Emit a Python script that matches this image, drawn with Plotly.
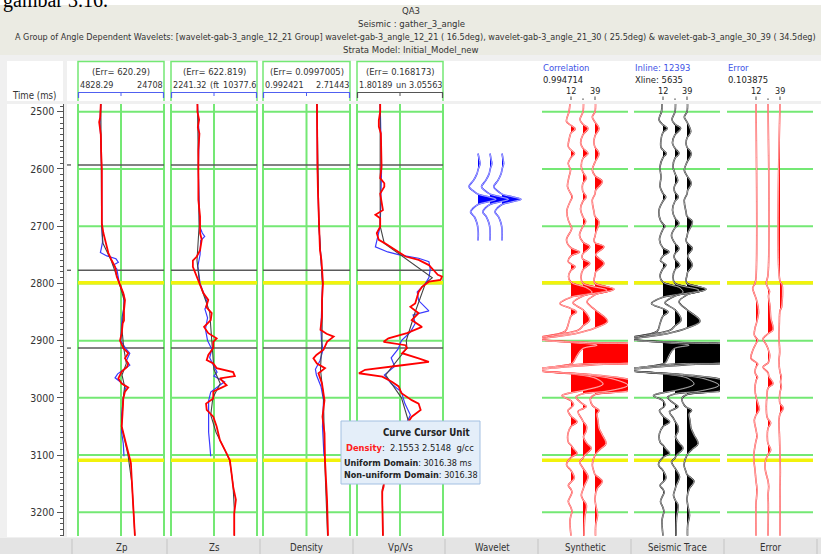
import plotly.graph_objects as go

W, H = 821, 554
FONT = "Liberation Sans Narrow, DejaVu Sans Condensed, Arial Narrow, sans-serif"

# ---------------------------------------------------------------- text data
CAPTION = "gambar 3.16."
TITLE_LINES = [
    "QA3",
    "Seismic : gather_3_angle",
    "A Group of Angle Dependent Wavelets: [wavelet-gab-3_angle_12_21 Group] wavelet-gab-3_angle_12_21 ( 16.5deg), "
    "wavelet-gab-3_angle_21_30 ( 25.5deg) & wavelet-gab-3_angle_30_39 ( 34.5deg)",
    "Strata Model: Initial_Model_new",
]
TRACK_LABELS = ["Zp", "Zs", "Density", "Vp/Vs", "Wavelet", "Synthetic", "Seismic Trace", "Error"]

LOG_MIN = [4828.29, 2241.32, 0.992421, 1.80189]
LOG_MAX = [24708.0, 10377.6, 2.71443, 3.05563]
LOG_MIN_TEXT = ["4828.29", "2241.32", "0.992421", "1.80189"]
LOG_MAX_TEXT = ["24708", "10377.6", "2.71443", "3.05563"]
LOG_UNIT_TEXT = ["", "(ft", "", "un"]
LOG_ERR_TEXT = ["620.29", "622.819", "0.0997005", "0.168173"]

PANEL_TITLES = ["Correlation", "Inline: 12393", "Error"]
PANEL_VALUES = ["0.994714", "Xline: 5635", "0.103875"]
ANGLE_LABELS = ["12", "", "39"]

HORIZON_TIMES = [2593, 2777, 2913]
MARKER_TIMES = [2799, 3109]
GRID_TIMES = [2500, 2600, 2700, 2800, 2900, 3000, 3100, 3200]

CURSOR_TIME = "3016.38"
CURSOR_DENSITY = ("2.1553", "2.5148")

# ---------------------------------------------------------------- well logs (time ms, value)
ZP_INV = [(2486, 10100), (2500, 10100), (2510, 9950), (2518, 9720), (2526, 9800), (2540, 10100), (2570, 10180),
          (2600, 10340), (2650, 10340), (2695, 10340), (2712, 10700), (2730, 11330), (2747, 11850), (2760, 12630),
          (2771, 13390), (2788, 13780), (2800, 14380), (2817, 15300), (2829, 15690), (2847, 15460), (2865, 15460),
          (2870, 15160), (2887, 14930), (2900, 14540), (2913, 15300), (2922, 16440), (2931, 15690), (2940, 16440),
          (2946, 16150), (2954, 14930), (2966, 14150), (2975, 14930), (2982, 16440), (2989, 15690), (3001, 15300),
          (3015, 15250), (3030, 15100), (3050, 14930), (3074, 15690), (3097, 16440), (3114, 17060), (3138, 17220),
          (3167, 17450), (3202, 17750), (3241, 17980)]
ZP_LOG = [(2486, 10100), (2520, 9900), (2540, 10050), (2600, 10300), (2700, 10340), (2728, 10500), (2740, 10180),
          (2746, 10000), (2752, 11500), (2757, 13600), (2763, 14150), (2768, 13000), (2775, 13800), (2790, 14200),
          (2800, 14380), (2820, 15400), (2840, 15500), (2860, 15000), (2880, 14900), (2900, 14700), (2913, 15800),
          (2922, 16800), (2935, 16000), (2943, 16800), (2950, 15500), (2958, 14000), (2965, 13390), (2972, 14500),
          (2980, 16000), (2988, 15600), (3000, 15300), (3030, 14900), (3060, 14900), (3080, 15300), (3102, 15460)]
ZP_MODEL = [(2486, 10100), (2700, 10300), (2730, 10600), (2760, 12500), (2800, 14380), (2830, 15500), (2880, 15000),
            (2913, 15400), (2940, 16000), (2960, 15000), (2980, 15600), (3000, 15300), (3050, 14900), (3100, 16400),
            (3150, 17300), (3200, 17750), (3241, 17980)]

ZS_INV = [(2486, 4740), (2500, 4740), (2514, 4900), (2527, 4780), (2538, 4930), (2567, 4830), (2600, 4830),
          (2654, 4830), (2683, 4990), (2712, 4990), (2724, 5150), (2742, 4990), (2753, 4680), (2760, 4310),
          (2771, 4310), (2777, 4430), (2788, 4680), (2800, 4930), (2817, 5300), (2829, 5770), (2841, 5560),
          (2852, 6090), (2864, 6000), (2870, 5700), (2876, 5370), (2887, 5770), (2896, 6560), (2902, 6240),
          (2913, 6240), (2925, 5770), (2934, 5620), (2940, 6240), (2948, 6560), (2955, 8120), (2962, 8280),
          (2966, 6870), (2978, 7500), (2982, 7030), (2989, 6240), (3001, 6240), (3010, 5560), (3021, 5620),
          (3033, 6240), (3050, 6560), (3074, 6870), (3097, 7500), (3109, 7810), (3132, 7970), (3155, 8120),
          (3178, 8380), (3202, 8220), (3241, 8220)]
ZS_LOG = [(2486, 4740), (2540, 4900), (2600, 4830), (2700, 4950), (2712, 5200), (2718, 5430), (2725, 5050),
          (2750, 4990), (2770, 4780), (2790, 4930), (2800, 4990), (2820, 5400), (2835, 5700), (2845, 5450),
          (2860, 5700), (2880, 5500), (2900, 5700), (2915, 6100), (2930, 5900), (2945, 6300), (2955, 6600),
          (2962, 6300), (2972, 7300), (2980, 6700), (2990, 6000), (3005, 5800), (3030, 5770), (3060, 5800),
          (3080, 5900), (3102, 6000)]
ZS_MODEL = [(2486, 4750), (2700, 4900), (2760, 4700), (2800, 4950), (2850, 5900), (2900, 6100), (2950, 6300),
            (2975, 6900), (3000, 6200), (3030, 6000), (3060, 6500), (3090, 7300), (3110, 7800), (3150, 8100),
            (3200, 8250), (3241, 8250)]

DEN_INV = [(2486, 2.06), (2500, 2.06), (2540, 2.07), (2596, 2.07), (2640, 2.08), (2683, 2.10), (2700, 2.11),
           (2742, 2.12), (2760, 2.15), (2771, 2.16), (2790, 2.17), (2800, 2.18), (2830, 2.16), (2858, 2.16),
           (2881, 2.13), (2888, 2.25), (2893, 2.39), (2902, 2.26), (2916, 2.19), (2925, 2.05), (2931, 1.99),
           (2940, 2.06), (2948, 2.22), (2957, 2.09), (2975, 2.16), (3004, 2.21), (3033, 2.17), (3062, 2.21),
           (3109, 2.22), (3178, 2.26), (3241, 2.28)]
DEN_LOG = [(2486, 2.06), (2600, 2.07), (2700, 2.10), (2800, 2.17), (2880, 2.14), (2900, 2.15), (2916, 2.18),
           (2935, 2.12), (2950, 2.03), (2960, 2.05), (2980, 2.14), (3004, 2.19), (3050, 2.17), (3102, 2.20)]
DEN_MODEL = [(2486, 2.06), (2700, 2.10), (2800, 2.17), (2900, 2.16), (2950, 2.13), (3000, 2.19), (3100, 2.21),
             (3241, 2.27)]

VPVS_INV = [(2486, 2.14), (2500, 2.14), (2515, 2.12), (2526, 2.12), (2538, 2.15), (2596, 2.16), (2616, 2.14),
            (2625, 2.20), (2631, 2.20), (2643, 2.14), (2672, 2.18), (2680, 2.07), (2686, 2.14), (2701, 2.14),
            (2712, 2.09), (2724, 2.12), (2730, 2.21), (2742, 2.36), (2753, 2.51), (2759, 2.70), (2768, 2.85),
            (2777, 2.92), (2785, 2.98), (2788, 3.04), (2794, 3.02), (2797, 2.85), (2806, 2.75), (2815, 2.70),
            (2823, 2.68), (2835, 2.65), (2841, 2.58), (2852, 2.70), (2864, 2.60), (2876, 2.75), (2887, 2.53),
            (2896, 2.26), (2902, 2.19), (2908, 2.51), (2913, 2.53), (2922, 2.46), (2931, 2.70), (2937, 2.85),
            (2943, 2.46), (2951, 1.92), (2957, 1.83), (2963, 2.17), (2972, 2.31), (2980, 2.41), (2992, 2.45),
            (3004, 2.60), (3010, 2.70), (3021, 2.73), (3033, 2.60), (3060, 2.45), (3090, 2.30), (3120, 2.22),
            (3155, 2.19), (3164, 2.17), (3178, 2.17), (3241, 2.18)]
VPVS_LOG = [(2486, 2.14), (2600, 2.16), (2700, 2.14), (2724, 2.10), (2736, 2.07), (2745, 2.25), (2750, 2.42),
            (2756, 2.70), (2762, 2.85), (2775, 2.87), (2790, 2.85), (2800, 2.80), (2815, 2.68), (2830, 2.70),
            (2848, 2.85), (2855, 2.62), (2870, 2.65), (2885, 2.58), (2900, 2.45), (2915, 2.40), (2930, 2.30),
            (2945, 2.35), (2960, 2.20), (2975, 2.30), (2990, 2.45), (3010, 2.50), (3030, 2.58), (3050, 2.50),
            (3100, 2.30)]
VPVS_MODEL = [(2486, 2.14), (2700, 2.14), (2730, 2.20), (2790, 2.90), (2800, 2.80), (2850, 2.65), (2900, 2.52),
              (2913, 2.53), (2960, 2.22), (3000, 2.45), (3040, 2.55), (3100, 2.30), (3160, 2.17), (3241, 2.18)]

# ---------------------------------------------------------------- wavelets (ms relative to centre, amplitude)
WAVELET_CENTER_MS = 2653
WAVELET_T = [-80, -70, -62, -54, -44, -33, -22, -15, -9, -4, 0, 4, 9, 15, 22, 31, 42, 52, 62, 72]
WAV_12 = [0, 0.12, 0.20, 0.05, -0.12, -0.45, -0.90, -0.50, 0, 1.1, 1.80, 1.1, 0, -0.45, -0.75, -0.35, -0.10, 0, 0.03, 0]
WAV_25 = [0, 0.10, 0.18, 0.04, -0.10, -0.42, -0.85, -0.50, 0, 1.1, 1.85, 1.1, 0, -0.45, -0.72, -0.35, -0.10, 0, 0.02, 0]
WAV_39 = [0, 0.10, 0.16, 0.03, -0.10, -0.40, -0.82, -0.48, 0, 1.1, 1.90, 1.1, 0, -0.45, -0.70, -0.33, -0.10, 0, 0.02, 0]

# ---------------------------------------------------------------- synthetic gathers (time ms, amplitude)
SYN_12 = [(2486, -0.1), (2500, -0.2), (2517, -0.45), (2524, 0), (2530, 0.42), (2537, 0), (2549, -0.2), (2561, -0.27),
          (2567, 0), (2573, 0.35), (2580, 0), (2590, -0.28), (2602, -0.05), (2614, -0.2), (2631, -0.35), (2644, 0),
          (2649, 0.13), (2654, 0), (2672, -0.4), (2689, -0.28), (2700, 0), (2704, 0.07), (2708, 0), (2724, -0.45),
          (2738, 0), (2745, 0.85), (2752, 0), (2762, -0.28), (2766, 0), (2771, 0.42), (2777, 0), (2788, -0.25),
          (2798, 0), (2808, 1.6), (2816, 2.1), (2824, 0), (2835, -1.1), (2844, 0), (2850, 0.55), (2857, 0),
          (2870, -0.25), (2884, -0.6), (2896, -3.4), (2903, 0), (2908, 2.6), (2914, 1.15), (2926, 0.6), (2937, 0.25),
          (2941, 0), (2951, -3.6), (2958, 0), (2966, 2.5), (2976, 3.2), (2986, 1.5), (2991, 0), (2996, -0.9),
          (3005, 0), (3012, 0.25), (3017, 0), (3022, -0.3), (3032, 0), (3042, 0.6), (3050, 0), (3062, -0.3),
          (3077, -0.27), (3083, 0), (3090, 0.3), (3097, 0.6), (3104, 0), (3117, -0.45), (3127, 0), (3140, 0.33),
          (3147, 0), (3153, -0.27), (3160, 0), (3165, 0.1), (3170, 0), (3181, -0.27), (3192, 0), (3199, 0.1),
          (3205, 0), (3215, -0.1), (3241, 0.0)]
SYN_25 = [(2486, 0.05), (2500, 0), (2514, -0.3), (2522, 0), (2529, 0.5), (2540, 0), (2555, -0.23), (2564, 0),
          (2573, 0.5), (2581, 0), (2596, -0.17), (2606, 0), (2616, 0.33), (2625, 0), (2631, -0.07), (2640, 0),
          (2649, 0.33), (2656, 0), (2670, -0.25), (2684, 0), (2692, 0.27), (2700, 0), (2716, -0.35), (2728, 0),
          (2736, 0.67), (2748, 0), (2753, -0.1), (2758, 0), (2765, 0.67), (2776, 0), (2790, -0.2), (2800, 0),
          (2812, 2.4), (2822, 0), (2834, -1.0), (2846, 0), (2864, 0.65), (2874, 0), (2882, -0.5), (2897, -4.6),
          (2903, 0), (2908, 5.5), (2922, 6.5), (2936, 5.5), (2941, 0), (2951, -4.8), (2959, 0), (2967, 3.0),
          (2978, 4.5), (2988, 2.5), (2993, 0), (2999, -0.7), (3007, -0.3), (3011, 0), (3015, 0.33), (3019, 0),
          (3024, -0.5), (3036, -0.15), (3041, 0), (3050, 0.35), (3059, 0.3), (3068, 0.05), (3080, 0.4), (3088, 0.83),
          (3100, 0.17), (3105, 0), (3112, -0.33), (3123, 0), (3138, 0.5), (3152, 0.17), (3160, 0), (3170, -0.17),
          (3178, 0), (3187, 0.33), (3210, 0.17), (3241, 0.1)]
SYN_39 = [(2486, 0.05), (2500, 0), (2509, -0.27), (2518, 0), (2529, 0.4), (2542, 0), (2555, -0.1), (2562, 0),
          (2573, 0.4), (2588, 0), (2602, -0.27), (2612, 0), (2622, 0.73), (2637, 0.07), (2644, 0), (2654, -0.27),
          (2675, -0.1), (2683, 0), (2692, 0.4), (2712, 0.07), (2718, 0), (2724, -0.1), (2729, 0), (2736, 0.9),
          (2750, 0.07), (2765, 0.9), (2780, 0.07), (2786, 0), (2794, -0.1), (2800, 0), (2810, 1.9), (2820, 0),
          (2832, -0.8), (2846, 0), (2866, 1.25), (2878, 0), (2888, -2.0), (2898, -5.6), (2904, 0), (2909, 5.5),
          (2922, 6.5), (2936, 5.5), (2942, 0), (2952, -5.8), (2960, 0), (2968, 3.5), (2979, 5.5), (2989, 3.0),
          (2994, 0), (3001, -0.45), (3013, -0.27), (3017, 0), (3022, 0.4), (3028, 0.2), (3040, 0.3), (3053, 0.4),
          (3065, 0.73), (3080, 1.1), (3090, 0.5), (3100, 0), (3117, -0.27), (3129, -0.1), (3134, 0), (3146, 0.73),
          (3158, 0.23), (3175, 0), (3187, 0.07), (3205, 0.25), (3222, 0.07), (3241, 0.05)]

# ---------------------------------------------------------------- recorded seismic gather
SEIS_12 = [(2486, -0.1), (2500, -0.15), (2514, -0.4), (2523, 0), (2529, 0.43), (2536, 0), (2549, -0.2), (2562, -0.2),
           (2567, 0), (2573, 0.33), (2580, 0), (2596, -0.3), (2614, -0.2), (2631, -0.3), (2643, 0), (2649, 0.27),
           (2656, 0), (2672, -0.4), (2690, -0.25), (2696, 0), (2700, 0.2), (2705, 0), (2724, -0.35), (2738, 0),
           (2745, 0.6), (2752, 0), (2760, -0.25), (2764, 0), (2768, 0.3), (2774, 0), (2788, -0.3), (2798, 0),
           (2808, 1.7), (2816, 2.0), (2824, 0), (2835, -1.15), (2844, 0), (2850, 0.5), (2857, 0), (2870, -0.3),
           (2884, -0.6), (2896, -3.4), (2903, 0), (2908, 2.6), (2914, 1.1), (2926, 0.6), (2937, 0.3), (2941, 0),
           (2951, -3.6), (2958, 0), (2966, 2.5), (2976, 3.1), (2986, 1.5), (2991, 0), (2996, -0.95), (3005, 0),
           (3012, 0.2), (3017, 0), (3022, -0.35), (3032, 0), (3042, 0.65), (3050, 0), (3062, -0.35), (3077, -0.3),
           (3083, 0), (3090, 0.3), (3097, 0.65), (3104, 0), (3117, -0.45), (3127, 0), (3140, 0.3), (3147, 0),
           (3153, -0.3), (3160, 0), (3165, 0.12), (3170, 0), (3181, -0.25), (3192, 0), (3199, 0.1), (3205, 0),
           (3215, -0.1), (3241, 0.0)]
SEIS_25 = [(2486, 0.05), (2500, 0), (2514, -0.3), (2522, 0), (2529, 0.57), (2540, 0), (2555, -0.25), (2564, 0),
           (2573, 0.4), (2581, 0), (2596, -0.2), (2608, 0), (2620, 0.27), (2628, 0), (2634, -0.1), (2641, 0),
           (2649, 0.33), (2656, 0), (2672, -0.25), (2686, 0), (2695, 0.4), (2703, 0), (2716, -0.35), (2730, 0),
           (2739, 0.4), (2748, 0), (2753, -0.1), (2758, 0), (2768, 0.47), (2776, 0), (2790, -0.2), (2800, 0),
           (2812, 2.4), (2822, 0), (2834, -1.0), (2846, 0), (2864, 0.6), (2874, 0), (2882, -0.5), (2897, -4.6),
           (2903, 0), (2908, 5.5), (2922, 6.5), (2936, 5.5), (2941, 0), (2951, -4.8), (2959, 0), (2967, 3.0),
           (2978, 4.4), (2988, 2.5), (2993, 0), (2999, -0.75), (3007, -0.3), (3011, 0), (3015, 0.3), (3019, 0),
           (3024, -0.55), (3036, -0.15), (3041, 0), (3050, 0.3), (3059, 0.3), (3068, 0.05), (3080, 0.45),
           (3088, 0.8), (3100, 0.15), (3105, 0), (3112, -0.35), (3123, 0), (3138, 0.45), (3152, 0.15), (3160, 0),
           (3170, -0.15), (3178, 0), (3187, 0.3), (3210, 0.15), (3241, 0.1)]
SEIS_39 = [(2486, 0.05), (2500, 0), (2509, -0.27), (2518, 0), (2535, 0.37), (2546, 0), (2555, -0.1), (2562, 0),
           (2573, 0.43), (2588, 0), (2602, -0.27), (2612, 0), (2625, 0.43), (2637, 0.07), (2644, 0), (2654, -0.27),
           (2675, -0.1), (2683, 0), (2692, 0.53), (2712, 0.07), (2718, 0), (2724, -0.1), (2729, 0), (2739, 0.53),
           (2752, 0.07), (2768, 0.53), (2780, 0.07), (2786, 0), (2794, -0.1), (2800, 0), (2810, 1.9), (2820, 0),
           (2832, -0.8), (2846, 0), (2866, 1.3), (2878, 0), (2888, -2.0), (2898, -5.6), (2904, 0), (2909, 5.5),
           (2922, 6.5), (2936, 5.5), (2942, 0), (2952, -5.8), (2960, 0), (2968, 3.5), (2979, 5.4), (2989, 3.0),
           (2994, 0), (3001, -0.5), (3013, -0.27), (3017, 0), (3022, 0.45), (3028, 0.2), (3040, 0.3), (3053, 0.4),
           (3065, 0.7), (3080, 1.1), (3090, 0.5), (3100, 0), (3117, -0.3), (3129, -0.1), (3134, 0), (3146, 0.7),
           (3158, 0.25), (3175, 0), (3187, 0.07), (3205, 0.25), (3222, 0.07), (3241, 0.05)]

# ---------------------------------------------------------------- residual (seismic - synthetic)
ERR_12 = [(2486, 0), (2790, 0), (2800, -0.1), (2808, -0.33), (2818, -0.17), (2826, 0), (2840, 0.2), (2852, 0.25),
          (2866, 0.1), (2872, 0), (2878, -0.1), (2890, -0.17), (2895, 0), (2899, 0.17), (2905, 0), (2916, -0.3),
          (2931, -0.5), (2938, 0), (2941, 0.17), (2946, 0), (2955, -0.1), (2960, 0), (2964, 0.15), (2970, 0),
          (2986, -0.1), (2998, 0), (3010, 0.2), (3020, 0.33), (3030, 0), (3039, -0.17), (3056, 0), (3068, 0.1),
          (3075, 0), (3103, -0.23), (3126, -0.1), (3145, 0), (3160, 0.1), (3175, 0.05), (3184, 0), (3241, 0)]
ERR_25 = [(2486, 0), (2785, 0), (2800, -0.17), (2808, 0), (2814, 0.15), (2822, 0.05), (2840, 0.2), (2860, 0.27),
          (2881, 0.5), (2888, 0), (2897, -0.5), (2906, -0.2), (2914, 0), (2925, 0.17), (2935, 0.1), (2939, 0),
          (2946, -0.5), (2956, 0), (2963, 0.1), (2975, 0.5), (2983, 0), (2995, -0.1), (3015, -0.17), (3033, -0.1),
          (3037, 0), (3044, 0.27), (3053, 0), (3068, -0.07), (3080, 0), (3091, 0.27), (3099, 0), (3110, -0.25),
          (3126, -0.27), (3145, 0), (3155, 0.07), (3170, 0), (3184, 0.03), (3241, 0)]
ERR_39 = [(2486, 0), (2796, 0), (2802, 0.2), (2815, 0.25), (2830, 0.22), (2842, 0.15), (2848, 0), (2870, -0.07),
          (2895, -0.1), (2920, -0.03), (2935, -0.1), (2955, 0), (2963, 0.13), (2972, 0.05), (2981, 0.13), (2990, 0),
          (3003, -0.05), (3010, 0), (3018, 0.33), (3028, 0), (3039, -0.1), (3068, -0.05), (3100, 0), (3130, 0.03),
          (3160, 0), (3241, 0)]

# ---------------------------------------------------------------- page geometry (pixels)
PLOT_TOP, PLOT_BOTTOM = 104, 536
T_TOP, T_BOTTOM = 2486.5, 3241.4
TRACK_PX = [(78, 164), (171, 257), (263, 350), (357, 443), (448, 536), (542, 628), (634, 720), (727, 813)]
EDGE_PAD = 1.5            # keeps the border grid lines of a log track fully visible
TRACE_OFFSETS = [29, 41, 53]
WAVELET_OFFSETS = [30, 42, 54]
AMP_GAIN = 10.0           # pixels per amplitude unit

GREEN = "#74e874"
YELLOW = "#f2f20c"
HORIZON = "#5a5a5a"
AXIS_GREY = "#555555"
HEAD_SIZE = 9.4


def xp(p):
    return p / W


def yp(p):
    return 1 - p / H


fig = go.Figure()
shapes, annotations = [], []
axis_names = ["x"] + [f"x{i}" for i in range(2, 9)]
layout_axes = {}

for i, (l, r) in enumerate(TRACK_PX):
    key = "xaxis" if i == 0 else f"xaxis{i + 1}"
    if i < 4:
        k = (LOG_MAX[i] - LOG_MIN[i]) / (r - l)
        rng = [LOG_MIN[i] - EDGE_PAD * k, LOG_MAX[i] + EDGE_PAD * k]
        dom = [xp(l - EDGE_PAD), xp(r + EDGE_PAD)]
    else:
        rng = [0, r - l]
        dom = [xp(l), xp(r)]
    layout_axes[key] = dict(domain=dom, range=rng, anchor="y2" if i == 4 else "y", visible=False,
                            fixedrange=True, showgrid=False, zeroline=False)

layout_axes["yaxis"] = dict(
    domain=[yp(PLOT_BOTTOM), yp(PLOT_TOP)], range=[T_BOTTOM, T_TOP], anchor="free", position=xp(62.5),
    showline=True, linecolor=AXIS_GREY, linewidth=1, ticks="outside", ticklen=6, tickwidth=1,
    tickcolor=AXIS_GREY, tickmode="linear", tick0=2500, dtick=100,
    tickfont=dict(family=FONT, size=10.5, color="#333333"), showgrid=False, zeroline=False, fixedrange=True,
    minor=dict(ticks="outside", ticklen=3, tickcolor=AXIS_GREY, tick0=2500, dtick=10, showgrid=False))
layout_axes["yaxis2"] = dict(domain=[yp(PLOT_BOTTOM), yp(PLOT_TOP)], range=[T_BOTTOM, T_TOP], anchor="x5",
                             visible=False, fixedrange=True)


def paper_rect(x0, y0, x1, y1, fill, line=None, layer="below", width=1):
    shapes.append(dict(type="rect", xref="paper", yref="paper", x0=xp(x0), x1=xp(x1), y0=yp(y0), y1=yp(y1),
                       fillcolor=fill, line=dict(color=line or fill, width=width if line else 0), layer=layer))


def paper_line(x0, y0, x1, y1, color, width=1, layer="above"):
    shapes.append(dict(type="line", xref="paper", yref="paper", x0=xp(x0), x1=xp(x1), y0=yp(y0), y1=yp(y1),
                       line=dict(color=color, width=width), layer=layer))


def label(x, y, s, size=HEAD_SIZE, color="#333333", xanchor="center", family=FONT):
    annotations.append(dict(x=xp(x), y=yp(y), xref="paper", yref="paper", text=s, showarrow=False,
                            xanchor=xanchor, yanchor="middle", borderpad=0,
                            font=dict(family=family, size=size, color=color)))


# ---------------------------------------------------------------- page panels
paper_rect(0, 0, W, 5, "#ffffff")
paper_rect(0, 5, W, 55, "#ebebe3")
paper_rect(7, 61, 63, 101, "#ffffff")
paper_rect(67, 61, W, 101, "#ffffff")
paper_rect(7, PLOT_TOP, 63, 537, "#ffffff")
paper_rect(67, PLOT_TOP, W, 537, "#ffffff")
paper_rect(0, 538, W, H, "#e4e4e4")
for sx in [72, 167, 260, 353, 445, 538, 631, 724, 817]:
    paper_line(sx, 539, sx, H, "#c4c4c4", 1, layer="below")

# ---------------------------------------------------------------- grid, horizons and picks
for i, (l, r) in enumerate(TRACK_PX):
    if i == 4:
        continue
    xa = axis_names[i]
    if i < 4:
        x_lo, x_hi = LOG_MIN[i], LOG_MAX[i]
        for xv in (x_lo, (x_lo + x_hi) / 2, x_hi):
            shapes.append(dict(type="line", xref=xa, yref="y", x0=xv, x1=xv, y0=T_TOP, y1=T_BOTTOM,
                               line=dict(color=GREEN, width=2), layer="below"))
    else:
        x_lo, x_hi = 0, r - l
    for t in GRID_TIMES:
        shapes.append(dict(type="line", xref=xa, yref="y", x0=x_lo, x1=x_hi, y0=t, y1=t,
                           line=dict(color=GREEN, width=2), layer="below"))
    if i < 4:
        for t in HORIZON_TIMES:
            shapes.append(dict(type="line", xref=xa, yref="y", x0=x_lo, x1=x_hi, y0=t, y1=t,
                               line=dict(color=HORIZON, width=1.5), layer="below"))
    for t in MARKER_TIMES:
        shapes.append(dict(type="line", xref=xa, yref="y", x0=x_lo, x1=x_hi, y0=t, y1=t,
                           line=dict(color=YELLOW, width=3.5), layer="below"))

for t in HORIZON_TIMES:
    shapes.append(dict(type="line", xref="paper", yref="y", x0=xp(67), x1=xp(71), y0=t, y1=t,
                       line=dict(color="#444444", width=1.2), layer="above"))

# ---------------------------------------------------------------- well-log curves
LOG_SETS = [(ZP_LOG, ZP_MODEL, ZP_INV), (ZS_LOG, ZS_MODEL, ZS_INV),
            (DEN_LOG, DEN_MODEL, DEN_INV), (VPVS_LOG, VPVS_MODEL, VPVS_INV)]
for i, (measured, model, inverted) in enumerate(LOG_SETS):
    for pairs, color, width in ((measured, "#3a3aff", 1.2), (model, "#444444", 1.1), (inverted, "#ff0000", 1.8)):
        fig.add_trace(go.Scatter(x=[v for _, v in pairs], y=[t for t, _ in pairs], xaxis=axis_names[i], yaxis="y",
                                 mode="lines", line=dict(color=color, width=width), hoverinfo="skip"))


# ---------------------------------------------------------------- variable-area wiggles
def wiggle_paths(samples, base, gain):
    pts = []
    for j, (t, a) in enumerate(samples):
        if j:
            t0, a0 = samples[j - 1]
            if a0 * a < 0:
                pts.append((t0 + (t - t0) * a0 / (a0 - a), 0.0))
        pts.append((t, a))
    fill_x, fill_y, run = [], [], []

    def flush(seg):
        if len(seg) < 2 or max(a for _, a in seg) <= 0:
            return
        seg = list(seg)
        if seg[0][1] > 0:
            seg.insert(0, (seg[0][0], 0.0))
        if seg[-1][1] > 0:
            seg.append((seg[-1][0], 0.0))
        fill_x.extend([base + gain * a for _, a in seg] + [None])
        fill_y.extend([t for t, _ in seg] + [None])

    for t, a in pts:
        if a >= 0:
            run.append((t, a))
        else:
            flush(run)
            run = []
    flush(run)
    line_x = [base + gain * a for _, a in pts]
    line_y = [t for t, _ in pts]
    return (fill_x, fill_y), (line_x, line_y)


def add_gather(traces, axis, yaxis, offsets, fill_color, line_color):
    paths = [wiggle_paths(s, off, AMP_GAIN) for s, off in zip(traces, offsets)]
    for (fx_, fy_), _ in paths:
        fig.add_trace(go.Scatter(x=fx_, y=fy_, xaxis=axis, yaxis=yaxis, mode="lines", fill="toself",
                                 fillcolor=fill_color, line=dict(width=0, shape="spline"), hoverinfo="skip"))
    for _, (lx, ly) in paths:
        fig.add_trace(go.Scatter(x=lx, y=ly, xaxis=axis, yaxis=yaxis, mode="lines",
                                 line=dict(color=line_color, width=1.6, shape="spline"), hoverinfo="skip"))
        fig.add_trace(go.Scatter(x=lx, y=ly, xaxis=axis, yaxis=yaxis, mode="lines",
                                 line=dict(color="#ffffff", width=0.6, shape="spline"), hoverinfo="skip"))


wavelets = [[(WAVELET_CENTER_MS + t, a) for t, a in zip(WAVELET_T, w)] for w in (WAV_12, WAV_25, WAV_39)]
add_gather(wavelets, "x5", "y2", WAVELET_OFFSETS, "#0000ff", "#2a2aff")
add_gather([SYN_12, SYN_25, SYN_39], "x6", "y", TRACE_OFFSETS, "#ff0000", "#ff3a3a")
add_gather([SEIS_12, SEIS_25, SEIS_39], "x7", "y", TRACE_OFFSETS, "#000000", "#222222")
add_gather([ERR_12, ERR_25, ERR_39], "x8", "y", TRACE_OFFSETS, "#ff0000", "#ff3a3a")

# ---------------------------------------------------------------- title block
label(2, 0.5, CAPTION, size=20, color="#000000", xanchor="left", family="Liberation Serif, Times New Roman, serif")
label(411, 11, TITLE_LINES[0], size=9.5)
label(411, 24, TITLE_LINES[1], size=9.5)
label(416, 37, TITLE_LINES[2], size=9.0)
label(411, 49, TITLE_LINES[3], size=9.5)

# ---------------------------------------------------------------- log-track headers
label(33.5, 95, "Time (ms)", size=9.6)
for i in range(4):
    l, r = TRACK_PX[i]
    c = (l + r) / 2
    shapes.append(dict(type="path", xref="paper", yref="paper",
                       path=f"M {xp(l)},{yp(101)} L {xp(l)},{yp(61.5)} L {xp(r)},{yp(61.5)} L {xp(r)},{yp(101)}",
                       line=dict(color=GREEN, width=1.5), layer="above"))
    label(c, 72, f"(Err= {LOG_ERR_TEXT[i]})")
    label(l + 1, 85.5, LOG_MIN_TEXT[i], xanchor="left", size=9)
    label(r - 0.5, 85.5, LOG_MAX_TEXT[i], xanchor="right", size=9)
    if LOG_UNIT_TEXT[i]:
        label(c + 0.5, 85.5, LOG_UNIT_TEXT[i], size=9)
    bar = "#5060f0" if i < 3 else "#555555"
    paper_line(l, 92.5, r, 92.5, bar, 1.2)
    paper_line(l + 0.5, 92.5, l + 0.5, 98, bar, 1.2)
    paper_line(r - 0.5, 92.5, r - 0.5, 98, bar, 1.2)
    paper_line(c, 92.5, c, 96, bar, 1)

# ---------------------------------------------------------------- gather headers
for j, i in enumerate([5, 6, 7]):
    l, r = TRACK_PX[i]
    label(l, 67.5, PANEL_TITLES[j], color="#3d52e6", xanchor="left")
    label(l, 79, PANEL_VALUES[j], color="#222222", xanchor="left")
    for off, ang in zip(TRACE_OFFSETS, ANGLE_LABELS):
        if ang:
            label(l + off, 90.5, ang, size=9, color="#222222")
            paper_line(l + off, 96.5, l + off, 100, "#444444", 1)
        else:
            paper_line(l + off, 98.4, l + off, 100, "#444444", 1)

# ---------------------------------------------------------------- track captions
for name, (l, r) in zip(TRACK_LABELS, TRACK_PX):
    label((l + r) / 2, 547, name, size=9.6, color="#333333")

# ---------------------------------------------------------------- cursor read-out
paper_rect(341, 421, 480, 484, "#e4eef9", line="#a3c0e2", layer="above")
label(471, 432, "<b>Curve Cursor Unit</b>", size=9.6, color="#222222", xanchor="right")
label(344.5, 447.5,
      f"<b><span style='color:#ff2020'>Density</span></b>:  {CURSOR_DENSITY[0]} {CURSOR_DENSITY[1]}  g/cc",
      size=9.3, color="#222222", xanchor="left")
label(342.5, 463, f"<b>Uniform Domain</b>: {CURSOR_TIME} ms", size=9.0, color="#222222", xanchor="left")
label(342.5, 474.5, f"<b>Non-uniform Domain</b>: {CURSOR_TIME}", size=9.0, color="#222222", xanchor="left")

fig.update_layout(
    width=W, height=H, margin=dict(l=0, r=0, t=0, b=0, pad=0),
    paper_bgcolor="#f0f0f0", plot_bgcolor="rgba(0,0,0,0)",
    showlegend=False, hovermode=False, font=dict(family=FONT, size=HEAD_SIZE, color="#333333"),
    shapes=shapes, annotations=annotations, **layout_axes)

fig.write_html("out.html", config=dict(displayModeBar=False, staticPlot=True))
